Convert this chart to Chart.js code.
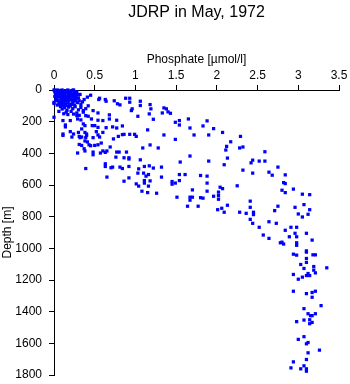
<!DOCTYPE html>
<html>
<head>
<meta charset="utf-8">
<script src="https://cdn.jsdelivr.net/npm/chart.js@4.4.1/dist/chart.umd.min.js"></script>
<style>
  html, body { margin: 0; padding: 0; background: #fff; }
  #wrap { width: 350px; height: 384px; }
</style>
</head>
<body>
<div id="wrap"><canvas id="grafico" width="350" height="384"></canvas></div>
<script>
// Ticks
const xTicks = [0, 0.5, 1, 1.5, 2, 2.5, 3, 3.5];
const yTicks = [0, 200, 400, 600, 800, 1000, 1200, 1400, 1600, 1800];

// Capa superficial (0-160 m), nube densa cerca de 0
const phosSurface = [0.00,0.02,0.04,0.05,0.07,0.08,0.10,0.11,0.12,0.14,0.15,0.17,0.18,0.20,0.21,0.23,0.25,0.02,0.03,0.06,
  0.09,0.13,0.16,0.19,0.22,0.26,0.01,0.04,0.07,0.11,0.14,0.24,0.19,0.28,0.30,0.01,0.06,0.09,0.16,0.27,
  0.03,0.05,0.08,0.10,0.12,0.15,0.17,0.19,0.21,0.23,0.25,0.27,0.29,0.31,0.33,0.35,0.14,0.06,0.20,0.24,
  0.00,0.00,0.11,0.30,0.37,0.41,0.32,0.45,0.28,0.27,
  0.08,0.10,0.13,0.16,0.18,0.21,0.23,0.26,0.28,0.30,0.33,0.36,0.39,0.12,0.17,0.24,0.31,0.20,0.42,0.06,0.15,
  0.01,0.03,0.05,0.08,0.10,0.13,0.16,0.19,0.22,0.25,0.03,0.06,0.09,0.12,0.15,0.18,0.21,0.24,0.05,0.08,
  0.12,0.17,0.22,0.02,0.10,0.14,0.18,0.26,0.04,0.13];
const depthSurface = [0,5,0,10,3,15,0,8,20,4,12,0,25,6,15,2,10,20,30,25,
  35,30,38,33,28,22,12,18,40,42,50,0,45,12,30,40,8,22,5,40,
  55,65,75,60,85,70,55,90,62,78,95,58,80,68,92,75,98,88,50,48,
  78,85,100,50,60,45,28,33,28,54,
  105,120,112,128,108,135,118,105,145,125,110,140,118,150,155,152,160,100,100,135,140,
  2,8,15,25,30,35,18,10,5,30,48,45,55,62,45,68,38,60,70,85,
  72,78,90,65,80,90,100,70,95,60];

// Termoclina, parte izquierda (0.0-1.2 umol/l)
const phosUpper = [0.56,0.55,0.63,0.64,0.74,0.78,0.81,0.88,0.93,0.93,1.06,1.06,0.96,0.95,0.54,0.68,0.68,1.03,0.77,0.60,
  0.54,1.17,0.84,0.72,0.77,0.64,0.54,0.60,0.86,0.93,0.99,1.15,
  0.11,0.22,0.31,0.32,0.34,0.39,0.40,0.48,0.56,0.73,0.79,0.84,1.01,0.38,0.41,0.31,0.34,0.43,0.45,0.50,
  0.54,0.58,0.69,0.37,0.38,0.48,0.48,0.60,0.63,0.57,0.65,0.77,0.80,0.89,1.09,0.29,0.76,0.86,0.92,0.92,
  1.06,0.63,0.63,0.70,0.72,0.81,0.84,0.92,0.39,1.04,1.11,1.17,1.03,1.10,1.13,1.16,0.65,0.92,0.86,1.11,
  1.11,1.01,1.04,1.16,1.08,1.15,
  0.00,0.36,0.48,0.39,0.42,0.28,0.11,0.20,0.29,0.33,0.46,0.14,0.14,0.36,0.38,0.47,0.50,0.34,0.52,0.54,
  0.30,0.38,0.40,0.20,0.24,0.11];
const depthUpper = [52,60,60,71,68,87,94,52,52,77,71,98,119,130,145,157,183,166,191,193,
  191,151,227,233,240,238,236,268,280,280,280,252,
  287,297,293,301,297,301,287,301,297,309,293,282,293,322,328,344,350,346,352,350,
  346,335,360,371,385,392,409,385,394,398,385,392,392,392,366,398,424,428,428,436,
  441,466,483,491,487,487,496,483,496,498,483,479,525,525,544,534,550,555,576,572,
  588,593,607,607,639,648,
  172,130,130,162,166,162,193,193,183,189,183,221,233,214,225,225,225,246,263,284,
  268,268,278,263,278,278];

// Termoclina, parte derecha (1.2-3.3 umol/l)
const phosMiddle = [1.18,1.19,1.35,1.38,1.33,1.40,1.43,1.22,1.65,1.54,1.49,1.88,1.54,1.83,1.67,1.96,2.07,1.35,1.72,1.90,
  2.29,1.49,2.17,1.18,1.28,2.12,2.11,2.28,2.32,2.59,1.67,2.13,2.44,2.42,2.52,2.59,1.55,1.90,2.09,2.75,
  1.22,1.32,2.32,2.44,2.64,2.68,2.84,1.54,1.61,1.80,1.88,1.32,1.54,1.45,1.49,1.45,1.18,1.88,2.82,2.84,
  2.25,2.04,2.07,2.94,1.70,1.88,2.80,2.84,2.02,2.02,2.02,1.26,3.05,3.14,1.51,1.67,1.70,1.67,1.80,1.83,
  1.96,2.41,2.13,1.64,1.77,2.06,2.01,2.41,3.07,2.75,2.96,3.14,2.09,2.28,2.36,2.45,2.45,2.71,3.00,3.05,
  3.12,2.41,2.44,2.64,2.73,2.52,2.91,2.98,2.84,2.96,3.10,2.57,2.64,2.89,2.98,3.17,2.80,2.82,2.78,2.98,
  2.98,3.10,3.10,2.94,2.98,3.18,3.21,3.10];
const depthMiddle = [92,119,113,119,145,138,147,185,183,193,204,195,221,227,240,244,268,284,284,284,
  293,312,327,347,366,356,379,366,360,390,417,430,443,460,449,449,455,449,472,487,
  493,487,506,525,519,538,536,534,534,540,544,550,572,578,588,595,574,588,585,591,
  605,614,623,626,631,639,633,648,645,667,690,652,658,661,677,677,677,696,680,683,
  671,702,728,734,734,747,756,741,724,734,741,756,772,772,779,772,787,762,783,802,
  785,817,842,832,842,867,867,867,886,905,905,916,937,927,927,948,961,973,965,965,
  981,1016,1024,1037,1043,1041,1041,1064];

// Agua profunda (> 1080 m)
const phosDeep = [3.10,3.03,3.19,3.35,3.07,3.19,3.21,2.94,3.12,3.10,3.14,3.05,3.00,2.94,3.21,3.17,3.10,3.17,3.28,3.07,
  3.12,3.21,3.15,3.17,3.07,3.14,3.17,3.14,2.98,3.07,3.00,3.12,3.10,3.26,3.12,3.10,2.94,3.07,2.91,3.03,
  3.10,3.10];
const depthDeep = [1089,1102,1115,1123,1127,1138,1155,1165,1159,1172,1172,1182,1195,1271,1271,1279,1286,1309,1362,1381,
  1413,1413,1425,1425,1453,1451,1468,1476,1463,1558,1575,1595,1603,1643,1660,1702,1717,1742,1755,1761,
  1761,1776];

const phosphate = [...phosSurface, ...phosUpper, ...phosMiddle, ...phosDeep];
const depth = [...depthSurface, ...depthUpper, ...depthMiddle, ...depthDeep];
const puntos = phosphate.map((p, i) => ({ x: p, y: depth[i] }));

const fuente = "'Liberation Sans', Arial, Helvetica, sans-serif";
const negro = '#000';

new Chart(document.getElementById('grafico'), {
  type: 'scatter',
  data: {
    datasets: [{
      data: puntos,
      pointStyle: 'rect',
      pointRadius: 2.3,
      pointHoverRadius: 2.3,
      backgroundColor: '#0000ff',
      borderWidth: 0,
      clip: false,
    }],
  },
  options: {
    responsive: false,
    animation: false,
    devicePixelRatio: 1,
    // el area del grafico queda en x 54-339, y 90-375
    layout: { padding: { left: 0, right: 11, top: 0, bottom: 9 } },
    plugins: {
      legend: { display: false },
      tooltip: { enabled: false },
      title: {
        display: true,
        text: 'JDRP in May, 1972',
        fullSize: false,
        color: negro,
        font: { family: fuente, size: 16, weight: 'normal', lineHeight: 1.2 },
        padding: { top: 3, bottom: 0 },
      },
    },
    scales: {
      x: {
        type: 'linear',
        position: 'top',
        min: 0,
        max: 3.5,
        afterBuildTicks: (s) => { s.ticks = xTicks.map(v => ({ value: v })); },
        afterFit: (s) => { s.height = 67.8; },
        ticks: {
          color: negro,
          padding: 2,
          maxRotation: 0,
          font: { family: fuente, size: 12, lineHeight: 1.2 },
          callback: (v) => String(v),
        },
        grid: { drawOnChartArea: false, drawTicks: true, tickLength: 5, color: negro, lineWidth: 1 },
        border: { display: true, color: negro, width: 1 },
        title: {
          display: true,
          text: 'Phosphate [µmol/l]',
          color: negro,
          font: { family: fuente, size: 12, lineHeight: 1.2 },
          padding: { top: 30.6, bottom: 0 },
        },
      },
      y: {
        type: 'linear',
        position: 'left',
        reverse: true,
        min: 0,
        max: 1800,
        afterBuildTicks: (s) => { s.ticks = yTicks.map(v => ({ value: v })); },
        // ancho fijo y sin margen extra por la ultima etiqueta
        afterFit: (s) => { s.width = 54; s.paddingTop = 0; s.paddingBottom = 0; },
        ticks: {
          color: negro,
          padding: 7,
          font: { family: fuente, size: 12, lineHeight: 1.2 },
          callback: (v) => String(v),
        },
        grid: { drawOnChartArea: false, drawTicks: true, tickLength: 5, color: negro, lineWidth: 1 },
        border: { display: true, color: negro, width: 1 },
        title: {
          display: true,
          text: 'Depth [m]',
          color: negro,
          font: { family: fuente, size: 12, lineHeight: 1.2 },
          padding: { top: 0, bottom: 0 },
        },
      },
    },
  },
});
</script>
</body>
</html>
